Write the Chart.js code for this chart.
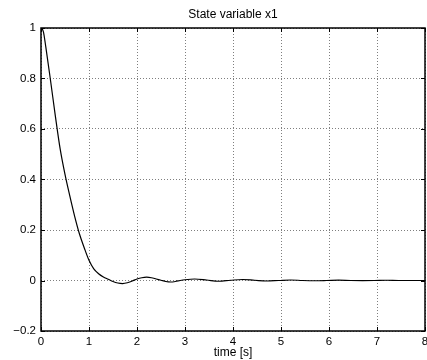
<!DOCTYPE html>
<html>
<head>
<meta charset="utf-8">
<script src="https://cdn.jsdelivr.net/npm/chart.js@4/dist/chart.umd.min.js"></script>
<style>
  html, body { margin: 0; padding: 0; background: #fff; }
  #wrap { width: 427px; height: 360px; }
</style>
</head>
<body>
<div id="wrap"><canvas id="stateChart" width="427" height="360"></canvas></div>
<script>
const chartTitle = "State variable x1";
const xTitle = "time [s]";
const times = [0, 0.05, 0.1, 0.2, 0.3, 0.4, 0.5, 0.6, 0.7, 0.8, 0.9, 1.0, 1.1, 1.2, 1.3, 1.4, 1.5, 1.6, 1.7, 1.8, 1.9,
  2.0, 2.1, 2.2, 2.3, 2.4, 2.5, 2.6, 2.7, 2.8, 2.9, 3.0, 3.2, 3.45, 3.7, 3.95, 4.2, 4.45, 4.7, 4.95,
  5.2, 5.45, 5.7, 5.95, 6.2, 6.45, 6.7, 6.95, 7.2, 7.45, 7.7, 8.0];
const x1 = [1.0, 0.985, 0.925, 0.79, 0.65, 0.52, 0.42, 0.335, 0.255, 0.185, 0.13, 0.08, 0.046, 0.027, 0.014, 0.005, -0.004, -0.01, -0.012, -0.009, -0.002,
  0.006, 0.011, 0.013, 0.011, 0.006, 0.001, -0.004, -0.006, -0.004, 0.0, 0.003, 0.006, 0.002, -0.003, 0.001, 0.004, 0.001, -0.002, 0.0,
  0.002, 0.0, -0.001, 0.0, 0.0015, 0.0, -0.0005, 0.0, 0.001, 0.0, 0.0, 0.0];
const xTicks = [0, 1, 2, 3, 4, 5, 6, 7, 8];
const yTicks = [-0.2, 0, 0.2, 0.4, 0.6, 0.8, 1];
const yTickLabels = ["\u22120.2", "0", "0.2", "0.4", "0.6", "0.8", "1"];

const FONT = "'Liberation Sans', Arial, Helvetica, sans-serif";

// box round the axes, inward ticks and the title, matlab style
const axesBox = {
  id: "axesBox",
  afterDraw(chart) {
    const { ctx, chartArea: a, scales } = chart;
    ctx.save();
    ctx.strokeStyle = "#000";
    ctx.lineWidth = 1;
    ctx.beginPath();
    xTicks.forEach(v => {
      const px = Math.round(scales.x.getPixelForValue(v)) + 0.5;
      ctx.moveTo(px, a.top); ctx.lineTo(px, a.top + 4);
      ctx.moveTo(px, a.bottom); ctx.lineTo(px, a.bottom - 4);
    });
    yTicks.forEach(v => {
      const py = Math.round(scales.y.getPixelForValue(v)) + 0.5;
      ctx.moveTo(a.left, py); ctx.lineTo(a.left + 4, py);
      ctx.moveTo(a.right, py); ctx.lineTo(a.right - 4, py);
    });
    ctx.stroke();
    ctx.lineWidth = 1.5;
    ctx.strokeRect(a.left, a.top, a.right - a.left, a.bottom - a.top);
    ctx.fillStyle = "#000";
    ctx.font = "12px " + FONT;
    ctx.textAlign = "center";
    ctx.textBaseline = "middle";
    ctx.fillText(chartTitle, (a.left + a.right) / 2, 15);
    ctx.restore();
  }
};

new Chart(document.getElementById("stateChart").getContext("2d"), {
  type: "line",
  data: {
    labels: times,
    datasets: [{
      data: times.map((t, i) => ({ x: t, y: x1[i] })),
      borderColor: "#000",
      borderWidth: 1.2,
      pointRadius: 0,
      tension: 0.4,
      cubicInterpolationMode: "monotone",
      fill: false
    }]
  },
  options: {
    responsive: false,
    animation: false,
    layout: { padding: { top: 28, right: 2, left: 0, bottom: 0 } },
    plugins: { legend: { display: false }, tooltip: { enabled: false } },
    scales: {
      x: {
        type: "linear",
        min: 0,
        max: 8,
        afterBuildTicks: s => { s.ticks = xTicks.map(v => ({ value: v })); },
        afterFit: s => { s.height = 29; s.paddingLeft = 0; s.paddingRight = 0; },
        ticks: { color: "#000", padding: 4, maxRotation: 0, font: { family: FONT, size: 11.5 } },
        grid: { color: "rgba(0,0,0,0.5)", drawTicks: false },
        border: { display: false, dash: [1, 2] },
        title: { display: true, text: xTitle, color: "#000", padding: { top: 0, bottom: 0 }, font: { family: FONT, size: 12 } }
      },
      y: {
        min: -0.2,
        max: 1,
        afterBuildTicks: s => { s.ticks = yTicks.map(v => ({ value: v })); },
        afterFit: s => { s.width = 41; },
        ticks: { color: "#000", padding: 5, font: { family: FONT, size: 11.5 }, callback: (v, i) => yTickLabels[i] },
        grid: { color: "rgba(0,0,0,0.5)", drawTicks: false },
        border: { display: false, dash: [1, 2] }
      }
    }
  },
  plugins: [axesBox]
});
</script>
</body>
</html>
